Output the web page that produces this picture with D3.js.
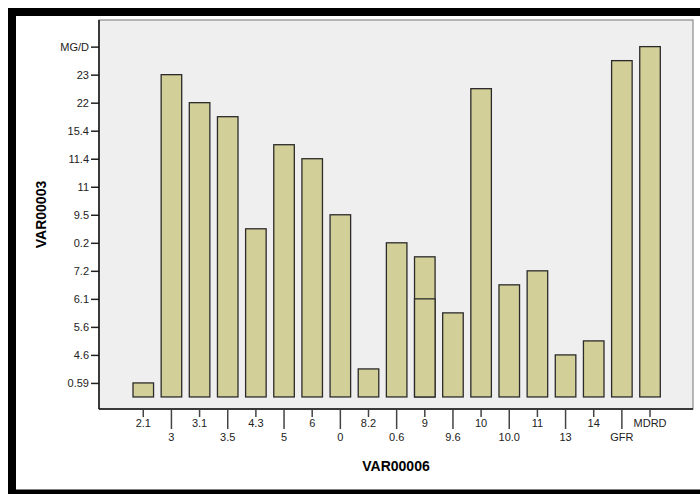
<!DOCTYPE html>
<html>
<head>
<meta charset="utf-8">
<script src="https://cdn.jsdelivr.net/npm/d3@7"></script>
<style>
  body { margin: 0; background: #fff; }
  svg { display: block; font-family: "Liberation Sans", Arial, sans-serif; }
</style>
</head>
<body>
<div id="chart"></div>
<script>
// categories on the x axis (VAR00006)
var categories = ["2.1", "3", "3.1", "3.5", "4.3", "5", "6", "0", "8.2", "0.6",
  "9", "9.6", "10", "10.0", "11", "13", "14", "GFR", "MDRD"];
// bar heights, in y-category levels (0.5 = first label)
var values = [0.5, 11.5, 10.5, 10, 6, 9, 8.5, 6.5, 1, 5.5,
  5, 3, 11, 4, 4.5, 1.5, 2, 12, 12.5];
// second overlapping bar drawn inside category "9"
var overlapCats = ["9"];
var overlapValues = [3.5];
// y tick labels (VAR00003), bottom to top
var yLabels = ["0.59", "4.6", "5.6", "6.1", "7.2", "0.2", "9.5", "11", "11.4",
  "15.4", "22", "23", "MG/D"];

var W = 700, H = 494;
var plot = { left: 99, top: 20, right: 693, bottom: 409 };

var svg = d3.select("#chart").append("svg")
  .attr("width", W)
  .attr("height", H);

// outer black frame
svg.append("rect")
  .attr("x", 12).attr("y", 12)
  .attr("width", 700).attr("height", 481.5)
  .attr("fill", "#fff")
  .attr("stroke", "#000")
  .attr("stroke-width", 8);

// plot background
svg.append("rect")
  .attr("x", plot.left).attr("y", plot.top)
  .attr("width", plot.right - plot.left)
  .attr("height", plot.bottom - plot.top)
  .attr("fill", "#efefef")
  .attr("stroke", "#8a8a8a")
  .attr("stroke-width", 1.2);

var x = d3.scaleBand()
  .domain(categories)
  .range([129.2, 664.1])
  .paddingInner(0.27)
  .paddingOuter(0.135);

var y = d3.scaleLinear()
  .domain([-0.43, 13.45])
  .range([plot.bottom, plot.top]);

var barFill = "#d3cf98";

svg.selectAll(".bar")
  .data(categories.map(function (c, i) { return [c, values[i]]; }))
  .enter()
  .append("rect")
  .attr("class", "bar")
  .attr("x", function (d) { return x(d[0]); })
  .attr("y", function (d) { return y(d[1]); })
  .attr("width", x.bandwidth())
  .attr("height", function (d) { return y(0) - y(d[1]); })
  .attr("fill", barFill)
  .attr("stroke", "#2b2b2b")
  .attr("stroke-width", 1.3);

svg.selectAll(".overlap")
  .data(overlapCats.map(function (c, i) { return [c, overlapValues[i]]; }))
  .enter()
  .append("rect")
  .attr("class", "overlap")
  .attr("x", function (d) { return x(d[0]); })
  .attr("y", function (d) { return y(d[1]); })
  .attr("width", x.bandwidth())
  .attr("height", function (d) { return y(0) - y(d[1]); })
  .attr("fill", barFill)
  .attr("stroke", "#2b2b2b")
  .attr("stroke-width", 1.3);

// y axis
var yAxis = svg.append("g")
  .attr("transform", "translate(" + plot.left + ",0)")
  .call(d3.axisLeft(y)
    .tickValues(yLabels.map(function (d, i) { return i + 0.5; }))
    .tickFormat(function (d, i) { return yLabels[i]; })
    .tickSize(8)
    .tickPadding(2));
yAxis.select(".domain").remove();
yAxis.selectAll(".tick line").attr("stroke", "#222").attr("stroke-width", 1.5);
yAxis.selectAll(".tick text")
  .attr("fill", "#222")
  .style("font-size", "11px")
  .style("font-family", "'Liberation Sans', Arial, sans-serif");

// x axis, labels staggered on two rows
var xAxis = svg.append("g")
  .attr("transform", "translate(0," + plot.bottom + ")")
  .call(d3.axisBottom(x).tickSize(0));
xAxis.select(".domain").remove();
xAxis.selectAll(".tick line")
  .attr("y1", 1)
  .attr("y2", function (d, i) { return i % 2 ? 20 : 8; })
  .attr("stroke", "#444")
  .attr("stroke-width", 1.5);
xAxis.selectAll(".tick text")
  .attr("y", function (d, i) { return i % 2 ? 24 : 10; })
  .attr("dy", "0.71em")
  .attr("fill", "#222")
  .style("font-size", "11px")
  .style("font-family", "'Liberation Sans', Arial, sans-serif");

// axis lines
svg.append("line")
  .attr("x1", plot.left).attr("x2", plot.left)
  .attr("y1", plot.top).attr("y2", plot.bottom)
  .attr("stroke", "#111").attr("stroke-width", 1.5);
svg.append("line")
  .attr("x1", plot.left).attr("x2", plot.right)
  .attr("y1", plot.bottom).attr("y2", plot.bottom)
  .attr("stroke", "#111").attr("stroke-width", 1.5);

// axis titles
svg.append("text")
  .attr("x", (plot.left + plot.right) / 2)
  .attr("y", 471)
  .attr("text-anchor", "middle")
  .style("font-size", "14px")
  .style("font-weight", "bold")
  .text("VAR00006");

svg.append("text")
  .attr("transform", "translate(46," + (plot.top + plot.bottom) / 2 + ") rotate(-90)")
  .attr("text-anchor", "middle")
  .style("font-size", "14px")
  .style("font-weight", "bold")
  .text("VAR00003");
</script>
</body>
</html>
